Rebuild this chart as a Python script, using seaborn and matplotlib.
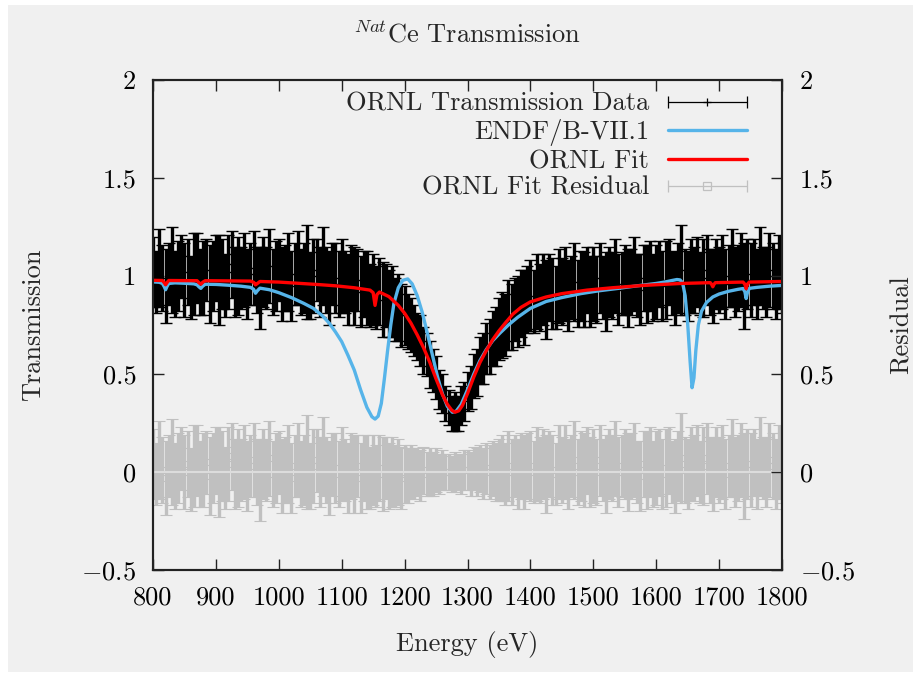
import numpy as np
import matplotlib
matplotlib.use('Agg')
import matplotlib.pyplot as plt
import seaborn as sns
from matplotlib.lines import Line2D
from matplotlib.legend_handler import HandlerLine2D, HandlerTuple
from matplotlib.patches import Rectangle

# ---------------- data ----------------
energy = list(range(800, 1801, 5))

trans = [
    1.02, 0.97, 1.04, 0.99, 0.95, 1.01, 1.03, 0.96, 1.00, 1.05,
    0.98, 1.02, 0.94, 1.01, 1.04, 0.97, 0.99, 1.03, 0.96, 1.00,
    1.04, 0.98, 1.01, 0.95, 1.02, 1.06, 0.97, 1.00, 0.99, 1.03,
    0.96, 1.01, 1.04, 0.98, 0.94, 1.02, 0.99, 1.05, 0.97, 1.00,
    1.03, 0.96, 0.99, 1.02, 0.95, 1.01, 1.04, 0.97, 0.99, 1.02,
    0.95, 1.00, 1.03, 0.97, 1.05, 0.98, 0.94, 1.01, 0.99, 0.96,
    1.00, 0.97, 0.93, 0.99, 0.95, 0.98, 0.92, 0.96, 0.94, 0.90,
    0.93, 0.89, 0.92, 0.88, 0.90, 0.86, 0.87, 0.83, 0.84, 0.80,
    0.80, 0.77, 0.75, 0.72, 0.69, 0.67, 0.62, 0.60, 0.55, 0.52,
    0.48, 0.42, 0.40, 0.35, 0.33, 0.30, 0.31, 0.30, 0.34, 0.36,
    0.41, 0.43, 0.49, 0.51, 0.57, 0.58, 0.63, 0.64, 0.68, 0.69,
    0.73, 0.75, 0.75, 0.80, 0.79, 0.83, 0.82, 0.86, 0.84, 0.88,
    0.90, 0.87, 0.92, 0.89, 0.93, 0.88, 0.94, 0.91, 0.89, 0.95,
    0.92, 0.96, 0.90, 0.94, 0.97, 0.91, 0.95, 0.93, 0.98, 0.92,
    0.96, 0.93, 0.99, 0.94, 0.92, 0.97, 0.95, 1.00, 0.93, 0.96,
    0.98, 0.94, 0.97, 1.01, 0.95, 0.93, 0.99, 0.96, 1.00, 0.94,
    0.97, 1.01, 0.95, 0.98, 1.02, 0.96, 0.94, 0.99, 1.03, 0.97,
    0.95, 1.00, 0.98, 1.02, 0.96, 0.99, 1.03, 0.97, 0.95, 1.01,
    0.98, 1.02, 0.96, 1.00, 1.04, 0.97, 0.99, 1.03, 0.95, 1.01,
    0.98, 1.02, 0.96, 1.05, 0.99, 0.97, 1.03, 1.00, 0.96, 1.02,
    0.99,
]

trans_err = [
    0.18, 0.16, 0.20, 0.17, 0.19, 0.16, 0.22, 0.17, 0.18, 0.16,
    0.19, 0.17, 0.16, 0.21, 0.18, 0.17, 0.19, 0.16, 0.20, 0.18,
    0.17, 0.23, 0.18, 0.16, 0.19, 0.17, 0.18, 0.20, 0.16, 0.19,
    0.18, 0.16, 0.19, 0.17, 0.21, 0.18, 0.16, 0.19, 0.17, 0.18,
    0.16, 0.19, 0.17, 0.20, 0.18, 0.16, 0.19, 0.17, 0.18, 0.24,
    0.17, 0.19, 0.16, 0.18, 0.20, 0.17, 0.19, 0.16, 0.18, 0.17,
    0.19, 0.16, 0.18, 0.17, 0.20, 0.16, 0.18, 0.17, 0.19, 0.16,
    0.18, 0.16, 0.17, 0.19, 0.16, 0.17, 0.18, 0.16, 0.17, 0.16,
    0.15, 0.14, 0.14, 0.13, 0.12, 0.13, 0.12, 0.11, 0.12, 0.11,
    0.11, 0.10, 0.10, 0.09, 0.09, 0.09, 0.10, 0.09, 0.10, 0.10,
    0.10, 0.11, 0.11, 0.12, 0.12, 0.13, 0.13, 0.14, 0.14, 0.15,
    0.16, 0.17, 0.16, 0.18, 0.17, 0.16, 0.18, 0.17, 0.19, 0.17,
    0.18, 0.16, 0.19, 0.17, 0.18, 0.20, 0.17, 0.18, 0.16, 0.19,
    0.17, 0.19, 0.18, 0.16, 0.20, 0.17, 0.18, 0.19, 0.17, 0.18,
    0.19, 0.17, 0.18, 0.16, 0.20, 0.18, 0.17, 0.19, 0.18, 0.16,
    0.18, 0.20, 0.17, 0.19, 0.16, 0.18, 0.17, 0.20, 0.18, 0.17,
    0.19, 0.17, 0.18, 0.20, 0.17, 0.16, 0.19, 0.18, 0.23, 0.17,
    0.18, 0.19, 0.17, 0.18, 0.16, 0.20, 0.18, 0.17, 0.19, 0.18,
    0.17, 0.19, 0.18, 0.16, 0.20, 0.18, 0.17, 0.19, 0.22, 0.18,
    0.19, 0.17, 0.18, 0.20, 0.16, 0.18, 0.19, 0.17, 0.18, 0.19,
    0.18,
]

resid = [
    0.04, -0.01, 0.06, 0.01, -0.03, 0.03, 0.05, -0.02, 0.02, 0.07,
    0.00, 0.04, -0.04, 0.03, 0.06, -0.01, 0.01, 0.05, -0.02, 0.02,
    0.06, 0.00, 0.03, -0.03, 0.04, 0.08, -0.01, 0.02, 0.01, 0.05,
    -0.02, 0.03, 0.06, 0.00, -0.04, 0.04, 0.01, 0.07, -0.01, 0.02,
    0.05, -0.02, 0.01, 0.04, -0.03, 0.03, 0.06, -0.01, 0.01, 0.05,
    -0.02, 0.03, 0.06, 0.00, 0.08, 0.01, -0.03, 0.04, 0.02, -0.01,
    0.04, 0.01, -0.03, 0.03, -0.01, 0.03, -0.03, 0.02, 0.00, -0.03,
    0.01, -0.02, 0.02, -0.01, 0.02, -0.02, 0.00, -0.02, 0.00, -0.03,
    -0.01, -0.02, 0.00, -0.01, 0.00, -0.02, 0.01, -0.01, 0.00, -0.01,
    0.01, -0.01, 0.01, 0.00, 0.00, -0.01, 0.00, 0.00, -0.01, 0.01,
    0.01, -0.01, 0.02, 0.00, 0.02, -0.01, 0.02, 0.00, 0.02, 0.00,
    0.01, 0.02, -0.01, 0.03, 0.00, 0.03, -0.01, 0.03, 0.00, 0.03,
    0.03, 0.00, 0.04, 0.01, 0.04, -0.01, 0.04, 0.01, -0.01, 0.05,
    0.01, 0.05, -0.01, 0.03, 0.06, 0.00, 0.03, 0.01, 0.06, 0.00,
    0.03, 0.00, 0.06, 0.01, -0.01, 0.04, 0.02, 0.07, 0.00, 0.03,
    0.04, 0.00, 0.03, 0.06, 0.00, -0.02, 0.04, 0.01, 0.05, -0.01,
    0.02, 0.05, -0.01, 0.02, 0.06, 0.00, -0.02, 0.03, 0.07, 0.01,
    -0.01, 0.04, 0.02, 0.06, 0.00, 0.03, 0.07, 0.01, -0.01, 0.05,
    0.01, 0.05, -0.01, 0.03, 0.07, 0.00, 0.02, 0.06, -0.02, 0.04,
    0.01, 0.05, -0.01, 0.08, 0.02, 0.00, 0.06, 0.03, -0.01, 0.05,
    0.02,
]

endf_E = [800, 810, 815, 818, 820, 822, 825, 835, 850, 865, 870, 873, 876, 879,
          883, 900, 920, 940, 955, 960, 963, 966, 970, 985, 1000, 1020, 1040,
          1055, 1070, 1080, 1090, 1100, 1110, 1120, 1130, 1140, 1148, 1153,
          1158, 1163, 1168, 1173, 1178, 1183, 1190, 1197, 1205, 1212, 1220,
          1228, 1236, 1244, 1252, 1260, 1268, 1276, 1282, 1290, 1300, 1310,
          1320, 1330, 1340, 1352, 1365, 1380, 1400, 1425, 1450, 1480, 1510,
          1540, 1570, 1600, 1615, 1625, 1633, 1638, 1642, 1646, 1650, 1654,
          1657, 1660, 1663, 1667, 1672, 1680, 1690, 1700, 1715, 1730, 1738,
          1741, 1743, 1745, 1748, 1760, 1780, 1800]
endf_T = [0.970, 0.968, 0.962, 0.945, 0.930, 0.945, 0.962, 0.965, 0.963, 0.960,
          0.955, 0.945, 0.937, 0.948, 0.958, 0.957, 0.953, 0.948, 0.942, 0.932,
          0.912, 0.925, 0.938, 0.930, 0.915, 0.890, 0.860, 0.835, 0.795, 0.760,
          0.715, 0.665, 0.595, 0.520, 0.420, 0.330, 0.282, 0.270, 0.285, 0.350,
          0.480, 0.620, 0.750, 0.860, 0.940, 0.978, 0.985, 0.960, 0.900, 0.815,
          0.710, 0.600, 0.490, 0.400, 0.335, 0.305, 0.310, 0.345, 0.420, 0.500,
          0.570, 0.625, 0.670, 0.710, 0.750, 0.790, 0.835, 0.870, 0.890, 0.910,
          0.925, 0.937, 0.950, 0.962, 0.970, 0.977, 0.982, 0.980, 0.965, 0.900,
          0.760, 0.560, 0.430, 0.480, 0.620, 0.750, 0.820, 0.865, 0.893, 0.908,
          0.922, 0.932, 0.936, 0.920, 0.885, 0.915, 0.937, 0.942, 0.948, 0.952]

fit_E = [800, 815, 818, 820, 822, 825, 870, 873, 876, 879, 883, 955, 960, 963,
         966, 970, 1000, 1030, 1060, 1090, 1120, 1145, 1150, 1153, 1156, 1160,
         1175, 1190, 1200, 1210, 1220, 1230, 1240, 1250, 1260, 1268, 1275,
         1280, 1286, 1292, 1300, 1310, 1320, 1330, 1340, 1350, 1360, 1372,
         1385, 1400, 1425, 1450, 1490, 1530, 1580, 1640, 1686, 1688, 1690,
         1692, 1694, 1738, 1741, 1743, 1745, 1748, 1800]
fit_T = [0.978, 0.977, 0.965, 0.955, 0.965, 0.977, 0.976, 0.966, 0.958, 0.968,
         0.976, 0.974, 0.968, 0.955, 0.962, 0.972, 0.969, 0.963, 0.957, 0.950,
         0.940, 0.928, 0.915, 0.850, 0.905, 0.918, 0.895, 0.850, 0.810, 0.760,
         0.700, 0.635, 0.560, 0.475, 0.395, 0.345, 0.315, 0.305, 0.312, 0.340,
         0.400, 0.485, 0.560, 0.620, 0.675, 0.720, 0.760, 0.805, 0.840, 0.868,
         0.893, 0.910, 0.928, 0.940, 0.952, 0.962, 0.966, 0.958, 0.945, 0.958,
         0.966, 0.969, 0.958, 0.935, 0.958, 0.969, 0.972]

x_ticks = [800, 900, 1000, 1100, 1200, 1300, 1400, 1500, 1600, 1700, 1800]
y_ticks = [-0.5, 0, 0.5, 1, 1.5, 2]
y_tick_labels = ['$-0.5$', '0', '0.5', '1', '1.5', '2']

labels = ['ORNL Transmission Data', 'ENDF/B-VII.1', 'ORNL Fit', 'ORNL Fit Residual']

# ---------------- style ----------------
sns.set_theme(style='white')
plt.rcParams.update({
    'font.family': ['cmr10', 'DejaVu Serif'],
    'mathtext.fontset': 'cm',
    'axes.formatter.use_mathtext': True,
    'font.size': 19,
    'axes.titley': 1.0,
    'axes.unicode_minus': True,
})

BG = '#f0f0f0'
C_DATA = 'black'
C_ENDF = '#56b4e9'
C_FIT = '#ff0000'
C_RES = '#c0c0c0'
SPINE = '#222222'

fig = plt.figure(figsize=(9.23, 6.73), dpi=100, facecolor='white')
fig.patches.append(Rectangle((8 / 923, 1 / 673), 905 / 923, 667 / 673,
                             transform=fig.transFigure, facecolor=BG,
                             edgecolor='none', zorder=-10))
ax = fig.add_axes([153 / 923, 103 / 673, 629 / 923, 490 / 673])
ax.set_facecolor(BG)

# residuals
ax.errorbar(energy, resid, yerr=trans_err, fmt='s', ms=4.5, mfc='none',
            mec=C_RES, mew=0.8, ecolor=C_RES, elinewidth=2.4, capsize=4,
            capthick=1, zorder=1)
ax.axhline(0, color='#dcdcdc', lw=1.5, zorder=1.5)
# data
ax.errorbar(energy, trans, yerr=trans_err, fmt='+', ms=4, mec=C_DATA,
            ecolor=C_DATA, elinewidth=2.4, capsize=4, capthick=1, zorder=2)
sns.lineplot(x=endf_E, y=endf_T, ax=ax, color=C_ENDF, lw=2.4, zorder=3,
             estimator=None, sort=False, legend=False)
sns.lineplot(x=fit_E, y=fit_T, ax=ax, color=C_FIT, lw=2.4, zorder=4,
             estimator=None, sort=False, legend=False)

ax.set_xlim(800, 1800)
ax.set_ylim(-0.5, 2)
ax.set_xticks(x_ticks)
ax.set_xticklabels([str(t) for t in x_ticks])
ax.set_yticks(y_ticks)
ax.set_yticklabels(y_tick_labels)
ax.tick_params(axis='x', direction='in', length=8, width=1, color=SPINE,
               top=True, bottom=True, pad=11, labelsize=19, labelcolor='black')
ax.tick_params(axis='y', direction='in', length=8, width=1, color=SPINE,
               left=True, right=False, pad=12, labelsize=19, labelcolor='black')
for s in ax.spines.values():
    s.set_color(SPINE)
    s.set_linewidth(1.5)

ax.set_xlabel('Energy (eV)', fontsize=19, labelpad=16)
ax.set_ylabel('Transmission', fontsize=19)
ax.yaxis.set_label_coords(-0.171, 0.5)
ax.set_title(r'$^{Nat}$Ce Transmission', fontsize=19, pad=27)

ax2 = ax.twinx()
ax2.set_ylim(-0.5, 2)
ax2.set_yticks(y_ticks)
ax2.set_yticklabels(y_tick_labels)
ax2.tick_params(axis='y', direction='in', length=8, width=1, color=SPINE,
                right=True, pad=13, labelsize=19, labelcolor='black')
ax2.set_ylabel('Residual', fontsize=19)
ax2.yaxis.set_label_coords(1.172, 0.5)
for s in ax2.spines.values():
    s.set_color(SPINE)
    s.set_linewidth(1.5)
ax2.grid(False)

# legend (gnuplot-like samples)
d_caps = Line2D([], [], color=C_DATA, lw=0.9, marker='|', ms=8, mew=0.9)
d_mark = Line2D([], [], color=C_DATA, lw=0, marker='+', ms=6, mew=0.9)
r_caps = Line2D([], [], color=C_RES, lw=0.9, marker='|', ms=8, mew=0.9)
r_mark = Line2D([], [], color=C_RES, lw=0, marker='s', ms=6, mfc='none', mec=C_RES, mew=0.9)
h_endf = Line2D([], [], color=C_ENDF, lw=2.4)
h_fit = Line2D([], [], color=C_FIT, lw=2.4)
hmap = {
    d_caps: HandlerLine2D(numpoints=2, marker_pad=0),
    r_caps: HandlerLine2D(numpoints=2, marker_pad=0),
    d_mark: HandlerLine2D(numpoints=1),
    r_mark: HandlerLine2D(numpoints=1),
    tuple: HandlerTuple(ndivide=1),
}
leg = ax2.legend([(d_caps, d_mark), h_endf, h_fit, (r_caps, r_mark)], labels,
                 loc='upper right', bbox_to_anchor=(0.944, 0.975),
                 frameon=False, markerfirst=False, handlelength=3.0,
                 handletextpad=0.7, labelspacing=0.12, borderpad=0,
                 borderaxespad=0, fontsize=19, handler_map=hmap)

fig.savefig('out.png', dpi=100, facecolor='white')
